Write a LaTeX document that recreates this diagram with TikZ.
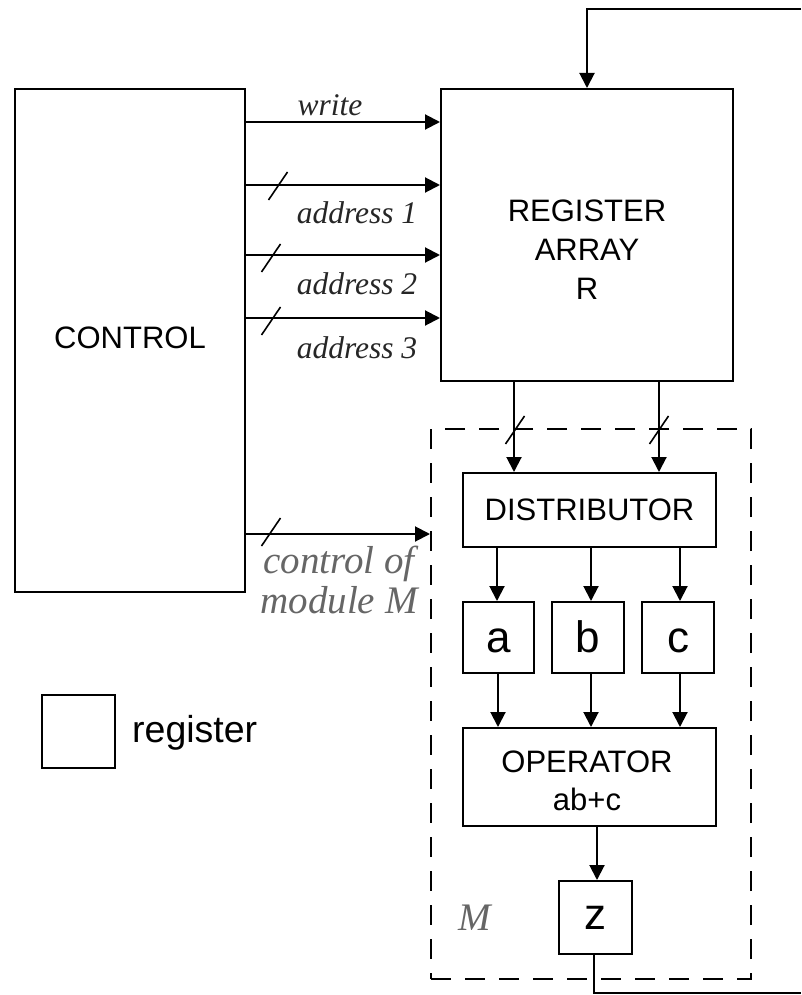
\documentclass[tikz,border=0pt]{standalone}
\usepackage{fontspec}
\setmainfont{Liberation Serif}
\setsansfont{Liberation Sans}
\usetikzlibrary{arrows.meta}
\begin{document}
\begin{tikzpicture}[x=1pt,y=-1pt,
  box/.style={draw,line width=2pt,rectangle,inner sep=0pt,font=\sffamily\fontsize{31}{39}\selectfont,align=center},
  reg/.style={box,minimum width=72pt,minimum height=72pt,font=\sffamily\fontsize{44}{44}\selectfont},
  abc/.style={reg,text height=30pt,text depth=0pt},
  arr/.style={line width=2pt,-{Triangle[length=15pt,width=15pt]}},
  wire/.style={line width=2pt},
  bus/.style={line width=1.6pt},
  lbl/.style={font=\itshape\fontsize{31.5}{38}\selectfont,inner sep=0pt,text=black!85},
  glbl/.style={font=\itshape\fontsize{39}{38}\selectfont,inner sep=0pt,text=black!60}]
\useasboundingbox (0,0) rectangle (801,995);

% dashed module box
\node[draw,line width=2pt,dash pattern=on 20pt off 14pt,minimum width=320pt,minimum height=550pt,inner sep=0pt] (modM) at (591,704) {};

% boxes
\node[box,minimum width=230pt,minimum height=503pt] (ctl) at (130,340.5) {};
\node[font=\sffamily\fontsize{31}{39}\selectfont,inner sep=0pt] (ctltxt) at (130,338) {CONTROL};
\node[box,minimum width=292pt,minimum height=292pt] (R) at (587,235) {};
\node[font=\sffamily\fontsize{31}{39}\selectfont,inner sep=0pt,align=center] (Rtxt) at (587,250) {REGISTER\\ARRAY\\R};
\node[box,minimum width=253pt,minimum height=74pt] (D) at (589.5,510) {DISTRIBUTOR};
\node[abc,minimum width=71pt,minimum height=71pt] (a) at (498.5,637.5) {a};
\node[abc,minimum height=71pt] (b) at (588,637.5) {b};
\node[abc,minimum height=71pt] (c) at (678,637.5) {c};
\node[box,minimum width=253pt,minimum height=98pt] (OP) at (589.5,777) {};
\node[font=\sffamily\fontsize{31}{38}\selectfont,inner sep=0pt,align=center] (OPtxt) at (587,781) {OPERATOR\\ab+c};
\node[reg,minimum width=73pt,minimum height=73pt] (z) at (595.5,917.5) {z};
\node[reg,minimum width=73pt,minimum height=73pt] (leg) at (78.5,731.5) {};
\node[font=\sffamily\fontsize{37.5}{40}\selectfont,inner sep=0pt,anchor=west] (legtxt) at (132,733) {register};
\node[glbl] (Mtxt) at (475,918) {M};

% control lines
\draw[arr] (ctl.east |- 0,122) -- (R.west |- 0,122);
\draw[arr] (ctl.east |- 0,185) -- (R.west |- 0,185);
\draw[arr] (ctl.east |- 0,255) -- (R.west |- 0,255);
\draw[arr] (ctl.east |- 0,318) -- (R.west |- 0,318);
\draw[arr] (ctl.east |- 0,534) -- (modM.west |- 0,534);

\node[lbl] (lw) at (330,105) {write};
\node[lbl] (la1) at (357,213) {address 1};
\node[lbl] (la2) at (357,284) {address 2};
\node[lbl] (la3) at (357,348) {address 3};
\node[glbl] (lc1) at (339,564) {control of};
\node[glbl] (lc2) at (339,600) {module M};

% bus slashes
\foreach \p in {(278,186),(271,258),(271,321),(271,532),(515,430),(659,430)}
  \draw[bus] \p ++(-9.5,14) -- ++(19,-28);

% register to distributor
\draw[arr] (R.south -| 514,0) -- (D.north -| 514,0);
\draw[arr] (R.south -| 659,0) -- (D.north -| 659,0);

% distributor to a,b,c
\draw[arr] (D.south -| 497,0) -- (a.north -| 497,0);
\draw[arr] (D.south -| 591,0) -- (b.north -| 591,0);
\draw[arr] (D.south -| 680,0) -- (c.north -| 680,0);

% a,b,c to operator
\draw[arr] (a.south -| 498,0) -- (OP.north -| 498,0);
\draw[arr] (b.south -| 591,0) -- (OP.north -| 591,0);
\draw[arr] (c.south -| 680,0) -- (OP.north -| 680,0);

% operator to z
\draw[arr] (OP.south -| 597,0) -- (z.north -| 597,0);

% feedback
\coordinate (fbB) at (801,993);
\coordinate (fbT) at (801,9);
\draw[wire] (z.south -| 594,0) -- (594,993) -- (fbB);
\draw[arr] (fbT) -- (R.north |- fbT) -- (R.north);
\end{tikzpicture}
\end{document}
